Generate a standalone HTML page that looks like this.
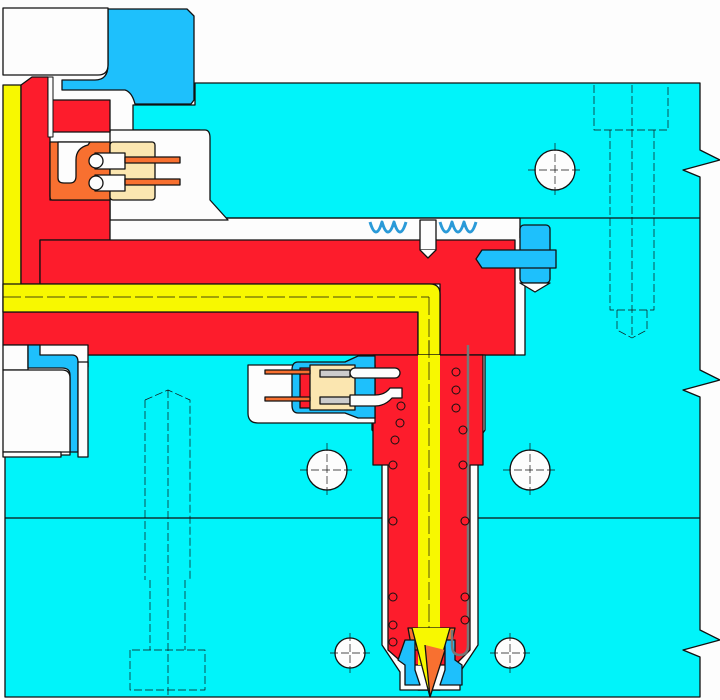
<!DOCTYPE html>
<html><head><meta charset="utf-8"><style>html,body{margin:0;padding:0;background:#fdfdfd}svg{display:block}</style></head>
<body>
<svg width="720" height="700" viewBox="0 0 720 700" xmlns="http://www.w3.org/2000/svg" stroke="#111" stroke-width="1.3" stroke-linejoin="round">
<rect width="720" height="700" fill="#fdfdfd" stroke="none"/>
<!-- cyan plates -->
<path d="M195 83 H700 V150 L720 160 L683 170 L700 177 V370 L720 380 L683 390 L700 397 V630 L720 640 L683 650 L700 657 V697 H5 V455 H70 V367 H88 V355 H525 V238 H520 V218 H215 L200 200 V130 H133 V105 H195 Z" fill="#00f4fa"/>
<line x1="133" y1="218" x2="700" y2="218"/>
<line x1="5" y1="518" x2="700" y2="518"/>
<!-- white pocket near top-left connector -->
<path d="M133 130 H205 Q210 130 210 138 V200 L228 220 H110 V130 Z" fill="#fdfdfd"/>
<!-- blue clamp -->
<path d="M111 9 H187 L194 16 V100 L191 104 H135 Q132 92 125 90 H62 V80 H95 Q108 80 108 65 V9 Z" fill="#1ec0fc"/>
<!-- top-left white block -->
<path d="M3 8 H108 V65 Q108 75 98 75 H3 Z" fill="#fdfdfd"/>
<!-- yellow left vertical -->
<rect x="3" y="85" width="18" height="227" fill="#f8f800"/>
<!-- red upper left -->
<path d="M21 85 L32 77 H48 V100 H110 V132 H50 V200 H110 V240 H40 V284 H21 Z" fill="#fd1c2c"/>
<rect x="48" y="77" width="5" height="60" fill="#fdfdfd" stroke-width="1"/>
<!-- orange block + cream connector -->
<path d="M50 142 H110 V200 H52 Q50 200 50 196 Z" fill="#f87030"/>
<path d="M58 142 V178 Q58 183 64 183 H70 Q76 183 76 176 V160 Q76 148 88 145 L90 142 Z" fill="#fdfdfd"/>
<rect x="110" y="142" width="45" height="58" rx="3" fill="#fbe6b0"/>
<rect x="95" y="153" width="30" height="16" fill="#fdfdfd"/>
<rect x="95" y="175" width="30" height="16" fill="#fdfdfd"/>
<circle cx="96" cy="161" r="7" fill="#fdfdfd"/>
<circle cx="96" cy="183" r="7" fill="#fdfdfd"/>
<rect x="125" y="157" width="55" height="6" fill="#f87030"/>
<rect x="125" y="179" width="55" height="6" fill="#f87030"/>
<!-- manifold red -->
<path d="M40 240 H515 V355 H88 V345 H3 V312 H418 V690 H440 V284 H40 Z" fill="#fd1c2c"/>
<!-- yellow channel -->
<path d="M3 284 H430 Q440 284 440 294 V690 H418 V312 H3 Z" fill="#f8f800"/>
<line x1="3" y1="297" x2="429" y2="297" stroke-dasharray="18 4" stroke-width="0.7"/>
<line x1="429" y1="297" x2="429" y2="690" stroke-dasharray="18 4" stroke-width="0.7"/>
<!-- left lower white + blue -->
<rect x="3" y="345" width="25" height="25" fill="#fdfdfd"/>
<path d="M28 345 H40 V355 H72 Q78 355 78 362 V452 H70 V375 Q70 368 62 368 H28 Z" fill="#1ec0fc"/>
<path d="M3 370 H62 Q70 370 70 378 V452 H3 Z" fill="#fdfdfd"/>
<rect x="3" y="452" width="58" height="5" fill="#fdfdfd"/>
<rect x="78" y="362" width="10" height="95" fill="#fdfdfd"/>
<!-- springs & pins at manifold top -->
<path d="M370 222 q6 20 12 0 q6 20 12 0 q6 20 12 0 M440 222 q6 20 12 0 q6 20 12 0 q6 20 12 0" fill="none" stroke="#2a9ad8" stroke-width="3"/>
<rect x="420" y="220" width="16" height="30" fill="#fdfdfd"/>
<path d="M420 250 L428 258 L436 250" fill="#fdfdfd"/>
<!-- right locating pin -->
<rect x="520" y="225" width="30" height="58" rx="4" fill="#1ec0fc"/>
<path d="M520 283 L535 292 L550 283 Z" fill="#fdfdfd"/>
<path d="M482 250 H556 V268 H482 L476 259 Z" fill="#1ec0fc"/>
<!-- nozzle white gap and red body -->
<path d="M360 355 H485 V430 L478 440 V645 L460 672 V690 H400 V672 L382 645 V440 L372 430 V365 Z" fill="#fdfdfd"/>
<path d="M373 355 H483 V465 H470 V650 L455 665 H405 L388 650 V465 H373 Z" fill="#fd1c2c"/>
<path d="M418 355 H440 V665 H418 Z" fill="#f8f800" stroke="none"/>
<line x1="429" y1="340" x2="429" y2="690" stroke-dasharray="18 4" stroke-width="0.7"/>
<!-- nozzle tip -->
<path d="M408 628 H455 L450 650 H412 Z" fill="#f87030"/>
<path d="M405 640 H415 V670 L420 685 H405 V665 L398 660 Z" fill="#1ec0fc"/>
<path d="M445 640 H455 V660 L462 665 V685 H440 L445 670 Z" fill="#1ec0fc"/>
<path d="M412 628 L430 697 L450 628" fill="#f8f800"/>
<path d="M425 645 L430 697 L445 650" fill="#f87030"/>
<!-- thermocouple -->
<path d="M468 345 V645 Q468 655 460 655 Q452 655 452 645 V630" fill="none" stroke="#777" stroke-width="2.5"/>
<!-- heater coils -->
<g fill="#fd1c2c" stroke-width="1">
<circle cx="401" cy="406" r="4"/><circle cx="400" cy="423" r="4"/><circle cx="395" cy="440" r="4"/><circle cx="393" cy="465" r="4"/><circle cx="393" cy="521" r="4"/><circle cx="393" cy="597" r="4"/><circle cx="393" cy="625" r="4"/><circle cx="393" cy="642" r="4"/>
<circle cx="456" cy="372" r="4"/><circle cx="456" cy="390" r="4"/><circle cx="456" cy="408" r="4"/><circle cx="463" cy="430" r="4"/><circle cx="463" cy="465" r="4"/><circle cx="465" cy="521" r="4"/><circle cx="465" cy="597" r="4"/><circle cx="465" cy="620" r="4"/>
</g>
<!-- nozzle connector box -->
<path d="M248 365 H375 V423 H258 Q248 423 248 413 Z" fill="#fdfdfd"/>
<path d="M298 362 H345 L358 356 H375 V418 H358 L345 413 H298 Q292 413 292 405 V370 Q292 362 298 362 Z" fill="#1ec0fc"/>
<path d="M300 368 H345 V408 H300 Z" fill="#fd1c2c"/>
<rect x="310" y="365" width="45" height="45" fill="#fbe6b0"/>
<rect x="320" y="370" width="30" height="7" fill="#ccc"/><rect x="320" y="397" width="30" height="7" fill="#ccc"/>
<rect x="350" y="368" width="50" height="10" rx="5" fill="#fdfdfd"/>
<path d="M350 395 H375 Q385 395 390 388 H402 V398 H392 Q385 406 375 406 H350 Z" fill="#fdfdfd"/>
<rect x="265" y="370" width="45" height="4" fill="#f87030"/>
<rect x="265" y="397" width="45" height="4" fill="#f87030"/>
<!-- holes -->
<g fill="#fdfdfd">
<circle cx="555" cy="170" r="20"/><circle cx="327" cy="470" r="20"/><circle cx="530" cy="470" r="20"/><circle cx="350" cy="653" r="15"/><circle cx="510" cy="653" r="15"/>
</g>
<g stroke-width="0.7" stroke-dasharray="8 3" fill="none">
<path d="M528 170 H582 M555 143 V197 M300 470 H354 M327 443 V497 M503 470 H557 M530 443 V497 M330 653 H370 M350 633 V673 M490 653 H530 M510 633 V673"/>
<path d="M594 85 V130 H668 V85 M610 130 V310 H654 V130 M617 310 V330 L632 338 L647 330 V310 M632 85 V338"/>
<path d="M145 400 L168 390 L190 400 V580 M145 400 V580 M150 580 V650 M185 580 V650 M130 650 V690 H205 V650 Z M168 390 V695"/>
</g>
</svg>
</body></html>
